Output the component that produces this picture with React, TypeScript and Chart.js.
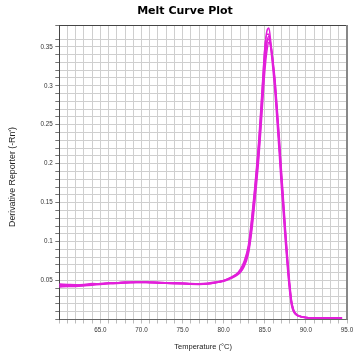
import React, { useEffect, useRef } from "react";
import { Chart, registerables } from "chart.js";

Chart.register(...registerables);

const temps = [60,61,62,63,64,65,66,67,68,69,70,71,72,73,74,75,76,77,78,79,80,80.5,81,81.5,82,82.5,83,83.25,83.5,83.75,84,84.25,84.5,84.75,85,85.25,85.5,85.75,86,86.25,86.5,86.75,87,87.25,87.5,87.75,88,88.25,88.5,88.75,89,89.5,90,91,92,93,94,94.4];

const well1 = [.0440,.0438,.0442,.0450,.0455,.0460,.0465,.0470,.0478,.0480,.0482,.0478,.0476,.0470,.0472,.0465,.0460,.0460,.0466,.0482,.0502,.0522,.0545,.0575,.0630,.0730,.0920,.1120,.1370,.1630,.1920,.2230,.2620,.3050,.3470,.3700,.3740,.3540,.3280,.3000,.2620,.2240,.1820,.1450,.1070,.0720,.0420,.0200,.0110,.0070,.0050,.0035,.0025,.0020,.0019,.0018,.0018,.0018];
const well2 = [.0425,.0430,.0428,.0440,.0452,.0458,.0462,.0472,.0475,.0482,.0478,.0482,.0472,.0468,.0466,.0462,.0458,.0455,.0460,.0474,.0496,.0515,.0538,.0566,.0610,.0700,.0870,.1040,.1270,.1530,.1810,.2110,.2480,.2890,.3280,.3550,.3640,.3520,.3300,.3040,.2680,.2310,.1900,.1520,.1140,.0780,.0470,.0230,.0120,.0075,.0052,.0035,.0025,.0021,.0019,.0018,.0018,.0018];
const well3 = [.0455,.0450,.0445,.0438,.0448,.0462,.0468,.0466,.0472,.0476,.0475,.0474,.0470,.0466,.0462,.0458,.0455,.0452,.0458,.0472,.0492,.0510,.0532,.0560,.0600,.0680,.0840,.1000,.1210,.1470,.1740,.2040,.2400,.2800,.3180,.3440,.3560,.3500,.3320,.3070,.2720,.2360,.1950,.1570,.1180,.0820,.0500,.0250,.0130,.0080,.0055,.0036,.0026,.0021,.0020,.0019,.0018,.0018];
const well4 = [.0418,.0422,.0425,.0432,.0440,.0450,.0458,.0462,.0468,.0472,.0476,.0472,.0468,.0464,.0460,.0458,.0452,.0450,.0455,.0470,.0498,.0520,.0548,.0580,.0640,.0750,.0950,.1150,.1400,.1660,.1960,.2280,.2670,.3090,.3480,.3660,.3660,.3460,.3200,.2900,.2530,.2140,.1730,.1370,.1000,.0670,.0380,.0180,.0100,.0065,.0047,.0033,.0024,.0020,.0019,.0018,.0018,.0018];
const well5 = [.0448,.0445,.0435,.0446,.0462,.0455,.0470,.0468,.0480,.0478,.0480,.0476,.0478,.0472,.0468,.0470,.0462,.0458,.0462,.0476,.0500,.0518,.0542,.0570,.0625,.0720,.0890,.1080,.1310,.1570,.1860,.2160,.2540,.2950,.3340,.3560,.3600,.3480,.3260,.2980,.2620,.2250,.1850,.1480,.1100,.0750,.0450,.0220,.0115,.0072,.0050,.0034,.0025,.0021,.0019,.0018,.0018,.0018];

const wells = [well1, well2, well3, well4, well5];

const xMin = 60;
const xMax = 95;
const yMin = 0;
const yMax = 0.378;

const TITLE = "Melt Curve Plot";
const X_TITLE = "Temperature (°C)";
const Y_TITLE = "Derivative Reporter (-Rn')";

const frame = {
  id: "frame",
  afterDraw(chart: any) {
    const { ctx, chartArea: a } = chart;
    ctx.save();
    ctx.strokeStyle = "#444";
    ctx.lineWidth = 1;
    ctx.beginPath();
    ctx.moveTo(a.left, a.top + 0.5);
    ctx.lineTo(a.right, a.top + 0.5);
    ctx.stroke();
    ctx.strokeStyle = "#888";
    ctx.lineWidth = 2;
    ctx.beginPath();
    ctx.moveTo(a.right, a.top);
    ctx.lineTo(a.right, a.bottom);
    ctx.stroke();

    ctx.fillStyle = "#000";
    ctx.font = "bold 11px 'DejaVu Sans'";
    ctx.textAlign = "center";
    ctx.textBaseline = "middle";
    ctx.fillText(TITLE, 185, 11);

    ctx.fillStyle = "#222";
    ctx.font = "8.8px 'Liberation Sans'";
    ctx.translate(12.5, 177);
    ctx.rotate(-Math.PI / 2);
    ctx.fillText(Y_TITLE, 0, 0);
    ctx.restore();
  },
};

export default function App() {
  const ref = useRef<HTMLCanvasElement>(null);
  useEffect(() => {
    if (!ref.current) return;
    const chart = new Chart(ref.current, {
      type: "line",
      data: {
        datasets: wells.map((w) => ({
          data: temps.map((t, i) => ({ x: t, y: w[i] })),
          borderColor: "rgb(226,32,218)",
          borderWidth: 1.5,
          pointRadius: 0,
          fill: false,
          cubicInterpolationMode: "monotone" as const,
        })),
      },
      options: {
        animation: false,
        responsive: false,
        layout: { padding: { left: 0, right: 16, top: 25, bottom: 0 } },
        plugins: {
          legend: { display: false },
          tooltip: { enabled: false },
          title: { display: false },
        },
        scales: {
          x: {
            type: "linear",
            min: xMin,
            max: xMax,
            afterFit: (s: any) => { s.height = 35.5; },
            ticks: {
              stepSize: 1,
              autoSkip: false,
              maxRotation: 0,
              padding: 3,
              color: "#333",
              font: { family: "Liberation Sans", size: 6.3 },
              callback: (v: any) => {
                const n = Number(v);
                return Math.abs(n % 5) < 1e-6 && n !== xMin ? n.toFixed(1) : "";
              },
            },
            grid: { color: "#cfcfcf", tickLength: 4, tickColor: "#bbb" },
            border: { color: "#666" },
            title: {
              display: true,
              text: X_TITLE,
              color: "#222",
              font: { family: "Liberation Sans", size: 7.5 },
              padding: { top: 0, bottom: 3.8 },
            },
          },
          y: {
            type: "linear",
            min: yMin,
            max: yMax,
            afterFit: (s: any) => { s.width = 59.3; },
            ticks: {
              stepSize: 0.01,
              autoSkip: false,
              padding: 2.5,
              color: "#333",
              font: { family: "Liberation Sans", size: 6.3 },
              callback: (v: any) => {
                const n = Math.round(Number(v) * 100);
                if (Math.abs(Number(v) * 100 - n) > 1e-6) return "";
                return n % 5 === 0 && n !== 0 ? String(n / 100) : "";
              },
            },
            grid: { color: "#cfcfcf", tickLength: 4, tickColor: "#777" },
            border: { color: "#444" },
          },
        },
      },
      plugins: [frame],
    });
    return () => chart.destroy();
  }, []);
  return (
    <div style={{ position: "fixed", left: 0, top: 0, width: 363, height: 355, background: "#fff" }}>
      <canvas ref={ref} width={363} height={355} />
    </div>
  );
}
